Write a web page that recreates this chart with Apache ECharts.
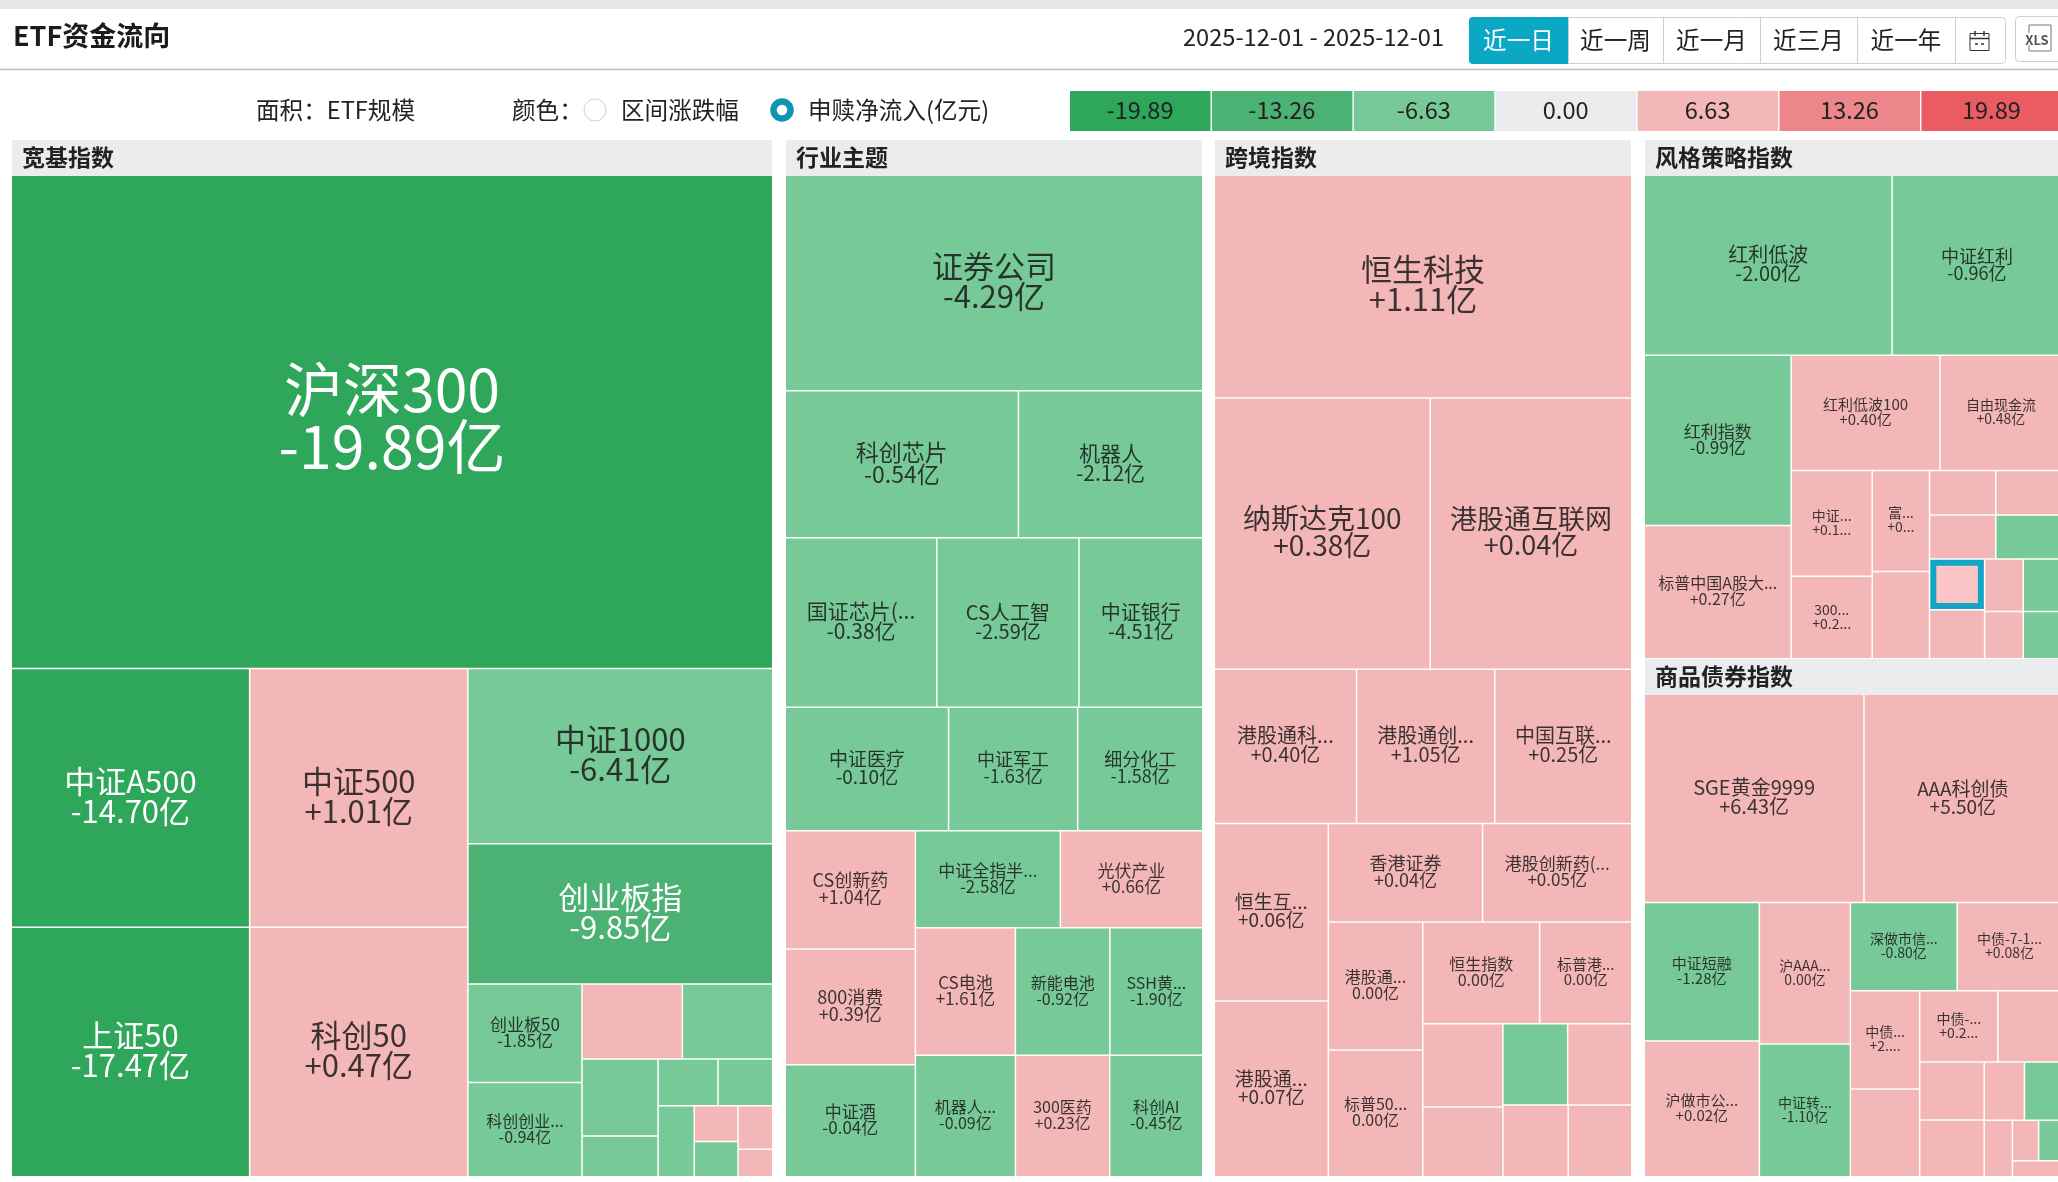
<!DOCTYPE html>
<html>
<head>
<meta charset="utf-8">
<title>ETF资金流向</title>
<style>
  html, body { margin: 0; padding: 0; background: #fff; overflow: hidden; }
  #main { width: 2058px; height: 1182px; }
</style>
<script src="https://cdn.jsdelivr.net/npm/echarts@6/dist/echarts.min.js"></script>
</head>
<body>
<div id="main"></div>
<script>
// 面积 = ETF规模, 颜色 = 申赎净流入(亿元); 名称为空的小格子不显示标签
var kuanjiNames = ['沪深300', '中证A500', '上证50', '中证500', '科创50', '中证1000', '创业板指', '创业板50', '科创创业...', '', '', '', '', '', '', '', '', '', '', ''];
var kuanjiSizes = [3739, 614, 592, 562, 542, 532, 425, 112, 107, 75, 67.5, 58.5, 30.8, 28, 25.6, 25.5, 15.5, 15.4, 15, 9.5];
var kuanjiFlows = [-19.89, -14.70, -17.47, 1.01, 0.47, -6.41, -9.85, -1.85, -0.94, 0.02, -0.10, -0.08, -0.05, -0.12, -0.06, -0.04, 0.03, -0.02, 0.02, 0.01];

var hangyeNames = ['证券公司', '科创芯片', '机器人', '国证芯片(...', 'CS人工智', '中证银行', '中证医疗', '中证军工', '细分化工', 'CS创新药', '800消费', '中证酒', '中证全指半...', '光伏产业', 'CS电池', '机器人...', '新能电池', 'SSH黄...', '300医药', '科创AI'];
var hangyeSizes = [895.6, 341.5, 270, 255.6, 240, 208.9, 200.8, 158.7, 153.8, 153.5, 150, 145, 140.2, 137.7, 127, 121, 120, 118, 114, 112.5];
var hangyeFlows = [-4.29, -0.54, -2.12, -0.38, -2.59, -4.51, -0.10, -1.63, -1.58, 1.04, 0.39, -0.04, -2.58, 0.66, 1.61, -0.09, -0.92, -1.90, 0.23, -0.45];

var kuajingNames = ['恒生科技', '纳斯达克100', '港股通互联网', '港股通科...', '港股通创...', '中国互联...', '恒生互...', '港股通...', '香港证券', '港股创新药(...', '港股通...', '标普50...', '恒生指数', '标普港...', '', '', '', '', '', ''];
var kuajingSizes = [923, 582, 543, 217.7, 211.6, 209.6, 201, 199, 151, 146, 120, 119, 118, 93, 66.3, 55.4, 52.2, 51.7, 46.5, 45.3];
var kuajingFlows = [1.11, 0.38, 0.04, 0.40, 1.05, 0.25, 0.06, 0.07, 0.04, 0.05, 0, 0, 0, 0, 0, 0, -0.01, 0, 0, 0];

var fenggeNames = ['红利低波', '中证红利', '红利指数', '标普中国A股大...', '红利低波100', '自由现金流', '中证...', '300...', '富...', '', '', '', '', '', '', '', '', '', '', ''];
var fenggeSizes = [442, 302.5, 248, 194, 170, 139, 85, 66.4, 57.5, 49.5, 29.2, 29.1, 29, 28.9, 27.6, 26.8, 20.1, 20, 18.1, 18];
var fenggeFlows = [-2.00, -0.96, -0.99, 0.27, 0.40, 0.48, 0.12, 0.21, 0.05, 0.03, 0.02, 0.02, 0.01, -0.05, 0.02, 0.01, 0.01, -0.03, 0.01, -0.02];
var fenggeHoverIndex = 14;

var shangpinNames = ['SGE黄金9999', 'AAA科创债', '中证短融', '沪做市公...', '沪AAA...', '中证转...', '深做市信...', '中债-7-1...', '中债...', '', '中债-...', '', '', '', '', '', '', '', '', ''];
var shangpinSizes = [451, 406, 157, 154, 127, 119, 93, 91, 67, 60, 54.7, 44.7, 37, 36, 23.2, 21.5, 15.7, 10.4, 9.2, 7.8];
var shangpinFlows = [6.43, 5.50, -1.28, 0.02, 0, -1.10, -0.80, 0.08, 2.30, 0.03, 0.25, 0.02, 0.01, 0.01, 0.01, -0.04, 0.01, 0.01, -0.02, 0.01];

// 被截断的数值按图上显示
var cutValueLabels = { '中证...': '+0.1...', '富...': '+0...', '300...': '+0.2...', '中债...': '+2....', '中债-...': '+0.2...' };

var legendValues = [-19.89, -13.26, -6.63, 0, 6.63, 13.26, 19.89];
var legendColors = ['#2fa75b', '#4cb274', '#78c998', '#ebecee', '#f4b7b8', '#ec868b', '#ea5c61'];
var rangeButtons = ['近一日', '近一周', '近一月', '近三月', '近一年'];

var FONT = '"Noto Sans CJK SC", "Noto Sans", sans-serif';

function flowColor(flow) {
  if (flow <= legendValues[1]) return legendColors[0];
  if (flow <= legendValues[2]) return legendColors[1];
  if (flow < 0) return legendColors[2];
  if (flow < legendValues[4]) return legendColors[4];
  if (flow < legendValues[5]) return flow < 6.64 ? legendColors[4] : legendColors[5];
  return legendColors[6];
}

function flowText(flow) {
  return (flow > 0 ? '+' : '') + flow.toFixed(2) + '亿';
}

// 字号随面积变化, 最大的格子单独放大
function labelSize(size, base, slope) {
  var side = Math.sqrt(size);
  if (side > 40) return Math.round(side * 0.96);
  return Math.round(Math.max(13.5, Math.min(30.5, base + slope * side)));
}

function groupSeries(names, sizes, flows, box, fontBase, fontSlope, hoverIndex) {
  var data = names.map(function (name, i) {
    var fontSize = labelSize(sizes[i], fontBase, fontSlope);
    var color = flowColor(flows[i]);
    var item = {
      name: name || ' ',
      value: sizes[i],
      itemStyle: { color: color },
      label: {
        show: name !== '',
        formatter: name + '\n' + (cutValueLabels[name] || flowText(flows[i])),
        fontSize: fontSize,
        lineHeight: Math.round(fontSize * 0.97),
        offset: [0, -Math.round(fontSize * 0.06)],
        color: color === legendColors[0] || color === legendColors[1] ? '#fff' : 'rgba(20,20,20,0.82)'
      }
    };
    if (i === hoverIndex) {
      item.itemStyle = { color: '#fcc5c5', borderWidth: 6, borderColor: '#12a5c5' };
    }
    return item;
  });
  return {
    type: 'treemap',
    left: box[0],
    top: box[1],
    width: box[2],
    height: box[3],
    roam: false,
    nodeClick: false,
    animation: false,
    squareRatio: 1,
    breadcrumb: { show: false },
    label: { show: true, position: 'inside', align: 'center', verticalAlign: 'middle', fontFamily: FONT, overflow: 'none' },
    upperLabel: { show: false },
    levels: [
      { itemStyle: { gapWidth: 1.5, borderWidth: 0 } },
      { itemStyle: { borderWidth: 0, gapWidth: 0 } }
    ],
    data: data
  };
}

function text(x, y, str, size, color, extra) {
  return {
    type: 'text',
    x: x,
    y: y,
    silent: true,
    style: Object.assign({ text: str, font: (extra && extra.weight ? extra.weight + ' ' : '') + size + 'px ' + FONT, fill: color, align: (extra && extra.align) || 'left', verticalAlign: 'middle' })
  };
}

function rect(x, y, w, h, fill, extra) {
  return { type: 'rect', silent: true, shape: { x: x, y: y, width: w, height: h, r: (extra && extra.r) || 0 }, style: { fill: fill, stroke: (extra && extra.stroke) || null, lineWidth: 1 } };
}

function line(x1, y1, x2, y2, color, width) {
  return { type: 'line', silent: true, shape: { x1: x1, y1: y1, x2: x2, y2: y2 }, style: { stroke: color, lineWidth: width || 1 } };
}

var chrome = [];
// 顶栏
chrome.push(rect(0, 0, 2058, 9, '#e6e6e6'));
chrome.push(line(0, 69.5, 2058, 69.5, '#b9b9b9', 1.5));
chrome.push(text(13, 36, 'ETF资金流向', 27, '#1b1b1b', { weight: 'bold' }));
chrome.push(text(1183, 37, '2025-12-01 - 2025-12-01', 23.6, '#222'));

// 区间按钮
var btnEdges = [1469, 1568, 1663, 1760, 1857, 1955, 2006];
chrome.push(rect(1469.5, 17.5, 536, 46, '#fff', { r: 4, stroke: '#cfcfcf' }));
rangeButtons.forEach(function (label, i) {
  if (i === 0) {
    chrome.push(rect(btnEdges[0], 17, btnEdges[1] - btnEdges[0], 47, '#0ba8c6', { r: [4, 0, 0, 4] }));
  }
  if (i > 0) chrome.push(line(btnEdges[i] + 0.5, 17, btnEdges[i] + 0.5, 63, '#cfcfcf'));
  chrome.push(text((btnEdges[i] + btnEdges[i + 1]) / 2, 40, label, 23.6, i === 0 ? '#fff' : '#222', { align: 'center' }));
});
chrome.push(line(btnEdges[5] + 0.5, 17, btnEdges[5] + 0.5, 63, '#cfcfcf'));
// 日历图标
chrome.push(rect(1970, 33.5, 19, 17, 'none', { stroke: '#333' }));
chrome.push(line(1970, 38.5, 1989, 38.5, '#333', 1.5));
chrome.push(line(1975, 31, 1975, 36, '#333', 1.5));
chrome.push(line(1984, 31, 1984, 36, '#333', 1.5));
chrome.push(line(1975, 44, 1978, 44, '#333', 1.5));
chrome.push(line(1981, 44, 1984, 44, '#333', 1.5));
// XLS 按钮
chrome.push(rect(2015.5, 16.5, 50, 45, '#fff', { r: 4, stroke: '#cfcfcf' }));
chrome.push(rect(2029, 25, 22, 26, 'none', { stroke: '#777' }));
chrome.push(rect(2024, 33, 26, 12, '#fff'));
chrome.push(text(2037, 40, 'XLS', 13, '#555', { weight: 'bold', align: 'center' }));

// 面积/颜色选项
chrome.push(text(256, 110, '面积：ETF规模', 23.6, '#222'));
chrome.push(text(512, 110, '颜色：', 23.6, '#222'));
chrome.push({ type: 'circle', silent: true, shape: { cx: 595, cy: 110, r: 11 }, style: { fill: '#fff', stroke: '#cfcfcf', lineWidth: 1 } });
chrome.push(text(621, 110, '区间涨跌幅', 23.6, '#222'));
chrome.push({ type: 'circle', silent: true, shape: { cx: 782, cy: 110, r: 8.5 }, style: { fill: '#fff', stroke: '#0f95b4', lineWidth: 6.5 } });
chrome.push(text(808, 110, '申赎净流入(亿元)', 23.6, '#222'));

// 图例色块
legendValues.forEach(function (v, i) {
  var x = 1070 + i * 141.9;
  chrome.push(rect(x, 91, 140.5, 40, legendColors[i]));
  chrome.push(text(x + 70, 110, v.toFixed(2), 23.6, '#222', { align: 'center' }));
});

// 分组标题
var groups = [
  { title: '宽基指数', box: [12, 176, 760, 1000], names: kuanjiNames, sizes: kuanjiSizes, flows: kuanjiFlows, base: 2, slope: 1.4 },
  { title: '行业主题', box: [786, 176, 416, 1000], names: hangyeNames, sizes: hangyeSizes, flows: hangyeFlows, base: 6.5, slope: 0.9 },
  { title: '跨境指数', box: [1215, 176, 416, 1000], names: kuajingNames, sizes: kuajingSizes, flows: kuajingFlows, base: 6.5, slope: 0.9 },
  { title: '风格策略指数', box: [1645, 176, 416, 482], names: fenggeNames, sizes: fenggeSizes, flows: fenggeFlows, base: 7, slope: 0.62, hover: fenggeHoverIndex },
  { title: '商品债券指数', box: [1645, 695, 416, 481], names: shangpinNames, sizes: shangpinSizes, flows: shangpinFlows, base: 7, slope: 0.62 }
];
groups.forEach(function (g) {
  chrome.push(rect(g.box[0], g.box[1] - 36, g.box[2], 36, '#ebecee'));
  chrome.push(text(g.box[0] + 10, g.box[1] - 19, g.title, 23, '#222', { weight: 'bold' }));
});

var myChart = echarts.init(document.getElementById('main'));

var option = {
  animation: false,
  tooltip: { show: false },
  graphic: chrome,
  series: groups.map(function (g) {
    return groupSeries(g.names, g.sizes, g.flows, g.box, g.base, g.slope, g.hover);
  })
};

myChart.setOption(option);

window.addEventListener('resize', function () {
  myChart.resize();
});
</script>
</body>
</html>
